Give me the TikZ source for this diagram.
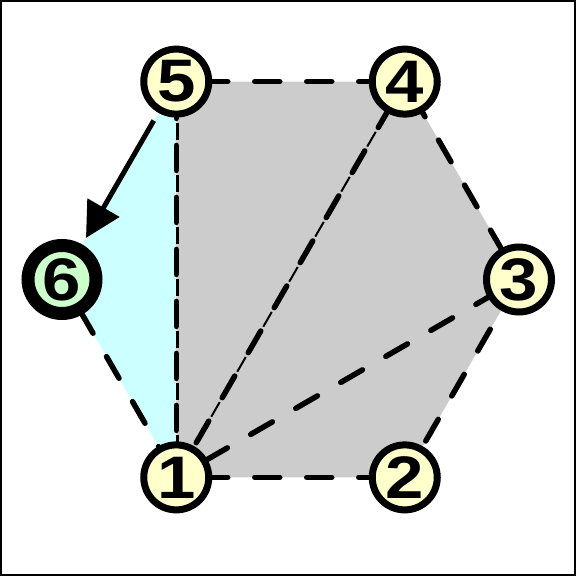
\documentclass[tikz,border=0pt]{standalone}
\usepackage{fontspec}
\newfontfamily\numfont{Liberation Sans Bold}[FakeStretch=1.15]
\usetikzlibrary{arrows.meta}
\pgfdeclarelayer{bg}
\pgfsetlayers{bg,main}
\definecolor{polygray}{HTML}{CCCCCC}
\definecolor{tricyan}{HTML}{CCFFFF}
\definecolor{nodeyellow}{HTML}{FFFFCC}
\definecolor{nodegreen}{HTML}{CCFFCC}
\begin{document}
\begin{tikzpicture}[x=1pt,y=1pt,
  vert/.style={circle, draw=black, line width=7pt, fill=nodeyellow,
    minimum size=65pt, inner sep=0pt,
    font=\numfont\fontsize{60}{60}\selectfont},
  startvert/.style={vert, line width=13pt, fill=nodegreen, minimum size=68pt},
  dashedge/.style={line width=5.5pt, line cap=round, dash pattern=on 25pt off 27pt},
  thinfill/.style={line cap=butt, dash pattern=on 17pt off 35pt},
  movearrow/.style={line width=5pt, -{Triangle[length=35pt,width=36pt]},
    shorten <=9pt, shorten >=7.5pt}
]
\useasboundingbox (0,0) rectangle (576,576);

\node[vert] (n1) at (176.25,98.61) {1};
\node[vert] (n2) at (404.75,98.61) {2};
\node[vert] (n3) at (519,296.5) {3};
\node[vert] (n4) at (404.75,494.39) {4};
\node[vert] (n5) at (176.25,494.39) {5};
\node[startvert] (n6) at (62,296.5) {6};

\begin{pgfonlayer}{bg}
  \fill[white] (0,0) rectangle (576,576);
  \draw[line width=2pt] (1,1) rectangle (575,575);
  \fill[polygray] (n1.center) -- (n2.center) -- (n3.center) -- (n4.center) -- (n5.center) -- cycle;
  \fill[tricyan] (n5.center) -- (n6.center) -- (n1.center) -- cycle;
  % outer edges
  \draw[dashedge, dash phase=25.5pt] (n1.center) -- (n2.center);
  \draw[dashedge, dash phase=10pt] (n2.center) -- (n3.center);
  \draw[dashedge, dash phase=20pt] (n3.center) -- (n4.center);
  \draw[dashedge, dash phase=25.5pt] (n5.center) -- (n4.center);
  \draw[dashedge, dash phase=15pt] (n6.center) -- (n1.center);
  % diagonals
  \draw[dashedge, dash phase=5pt] (n1.center) -- (n5.center);
  \draw[thinfill, line width=3.5pt, dash phase=27pt] ([xshift=1.2pt]n1.center) -- ([xshift=1.2pt]n5.center);
  \draw[dashedge, dash phase=12pt] (n1.center) -- (n4.center);
  \draw[thinfill, line width=2pt, dash phase=34pt] (n1.center) -- (n4.center);
  \draw[dashedge, dash phase=18pt] (n1.center) -- (n3.center);
\end{pgfonlayer}

\draw[movearrow] (n5) -- (n6);
\end{tikzpicture}
\end{document}
